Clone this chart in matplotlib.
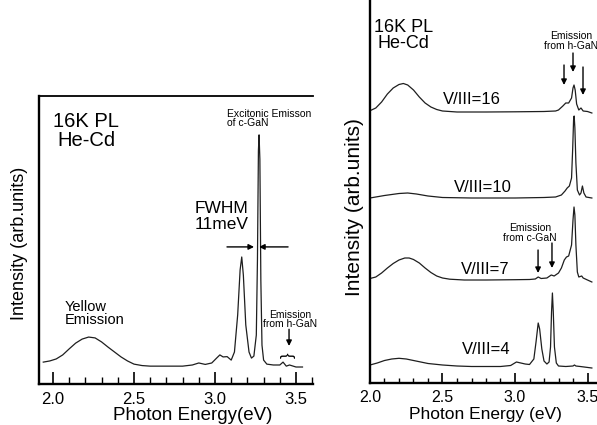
import matplotlib
matplotlib.use("Agg")
import matplotlib.pyplot as plt
from matplotlib.ticker import MultipleLocator

plt.rcParams['font.family'] = ['Liberation Sans', 'DejaVu Sans']

# ---------------- data ----------------
# Left panel: single spectrum (photon energy eV, intensity arb. units)
left_energy = [1.94, 1.98, 2.02, 2.06, 2.10, 2.14, 2.18, 2.22, 2.26, 2.30, 2.34, 2.38,
               2.42, 2.46, 2.50, 2.55, 2.60, 2.70, 2.80, 2.86, 2.90, 2.94, 2.98, 3.01,
               3.03, 3.05, 3.075, 3.10, 3.12, 3.14, 3.155, 3.165, 3.175, 3.19, 3.21,
               3.225, 3.24, 3.255, 3.262, 3.268, 3.272, 3.277, 3.283, 3.29, 3.30, 3.32,
               3.36, 3.40, 3.42, 3.44, 3.46, 3.50, 3.54]
left_intensity = [7.6, 8.0, 8.7, 10.1, 12.2, 14.2, 15.6, 16.3, 16.0, 14.6, 12.8, 11.1,
                  9.4, 8.0, 6.9, 6.4, 6.2, 6.2, 6.2, 6.6, 7.3, 6.8, 7.3, 9.0,
                  10.1, 9.4, 9.5, 8.3, 11.1, 24.0, 39.6, 44.1, 37.8, 20.5, 11.1,
                  9.0, 9.7, 17.0, 43.0, 81.0, 86.5, 78.0, 36.0, 13.5, 8.3, 6.9,
                  6.6, 6.6, 7.6, 6.2, 6.6, 5.9, 5.9]

# Right panel: spectra for several V/III ratios (intensity above own baseline)
ratio_labels = ['V/III=16', 'V/III=10', 'V/III=7', 'V/III=4']

energy_16 = [2.00, 2.04, 2.08, 2.12, 2.16, 2.20, 2.23, 2.26, 2.30, 2.34, 2.38, 2.42,
             2.46, 2.50, 2.60, 2.80, 3.00, 3.20, 3.28, 3.30, 3.33, 3.35, 3.37, 3.39,
             3.40, 3.407, 3.415, 3.425, 3.44, 3.455, 3.47, 3.50, 3.53]
intensity_16 = [1.3, 4, 10, 18, 24, 27.5, 28.5, 27, 22, 15, 9, 5,
                2.5, 1, 0, 0, 0.2, 0.5, 1, 2, 6, 9, 9, 14,
                24, 27, 22, 8, 2, 4, 1, 0.5, -1]

energy_10 = [2.00, 2.10, 2.20, 2.26, 2.32, 2.40, 2.50, 2.70, 3.00, 3.20, 3.28, 3.32,
             3.345, 3.36, 3.375, 3.39, 3.398, 3.404, 3.408, 3.413, 3.42, 3.43, 3.445,
             3.455, 3.465, 3.475, 3.49, 3.53]
intensity_10 = [0, 2.5, 4.5, 5, 4, 2, 0.5, 0, 0, 0.5, 1, 3,
                7, 10, 12, 20, 50, 78, 82, 70, 35, 8, 3,
                5, 12, 5, 1, 0]

energy_7 = [2.00, 2.04, 2.08, 2.12, 2.16, 2.20, 2.24, 2.27, 2.30, 2.34, 2.38, 2.42,
            2.46, 2.50, 2.55, 2.65, 2.80, 3.00, 3.10, 3.14, 3.16, 3.18, 3.22, 3.25,
            3.27, 3.30, 3.32, 3.34, 3.355, 3.37, 3.39, 3.40, 3.407, 3.413, 3.42,
            3.43, 3.44, 3.46, 3.47, 3.50, 3.53]
intensity_7 = [1.5, 3, 7, 12, 16.5, 20, 22, 22, 20.5, 17, 12, 7.5,
               4, 2, 0.8, 0, 0, 0.3, 0.5, 1, 3, 1.5, 2, 5,
               4, 7, 12, 20, 23, 24, 35, 60, 73, 65, 35,
               8, 3, 4, 2, 0, -2]

energy_4 = [2.00, 2.05, 2.10, 2.15, 2.20, 2.25, 2.30, 2.35, 2.40, 2.50, 2.60, 2.70,
            2.80, 2.90, 2.97, 3.01, 3.04, 3.07, 3.10, 3.13, 3.145, 3.16, 3.17, 3.185,
            3.20, 3.22, 3.235, 3.245, 3.252, 3.258, 3.264, 3.272, 3.285, 3.30, 3.35,
            3.40, 3.41, 3.42, 3.45, 3.53]
intensity_4 = [2, 4, 6.5, 8, 8.7, 8, 6.5, 5, 3.5, 2, 1, 0.5,
               0.5, 0.5, 1.5, 5, 4, 3, 2.5, 8, 25, 44, 38, 18,
               6, 3, 5, 20, 55, 74, 55, 20, 4, 1, 0.5,
               1, 2, 1, 0.5, -1]

right_energies = [energy_16, energy_10, energy_7, energy_4]
right_intensities = [intensity_16, intensity_10, intensity_7, intensity_4]
offsets = [271, 185, 103, 16]

tick_values = [2.0, 2.5, 3.0, 3.5]
tick_labels = ['2.0', '2.5', '3.0', '3.5']

# ---------------- figure ----------------
W, H = 597, 425
fig = plt.figure(figsize=(W / 100, H / 100), dpi=100)


def rect(x0, y0, x1, y1):
    return [x0 / W, 1 - y1 / H, (x1 - x0) / W, (y1 - y0) / H]


line_color = '#1e1e1e'

# ---- left panel ----
axL = fig.add_axes(rect(39, 96, 313.5, 384))
axL.plot(left_energy, left_intensity, color=line_color, lw=0.9)
axL.set_xlim(1.9136, 3.608)
axL.set_ylim(0, 100)
axL.spines['right'].set_visible(False)
axL.spines['top'].set_linewidth(1.3)
axL.spines['left'].set_linewidth(1.7)
axL.spines['bottom'].set_linewidth(1.7)
axL.set_xticks(tick_values)
axL.set_xticklabels(tick_labels)
axL.xaxis.set_minor_locator(MultipleLocator(0.1))
axL.tick_params(axis='x', which='major', direction='in', length=8.6, width=1.2,
                labelsize=12, pad=5.5)
axL.tick_params(axis='x', which='minor', direction='in', length=5, width=1.0)
axL.tick_params(axis='y', left=False, labelleft=False)

axL.text(2.204, 94.3, '16K PL\nHe-Cd', ha='center', va='top', fontsize=14.5,
         linespacing=1.0)
axL.text(3.074, 95.6, 'Excitonic Emisson\nof c-GaN', ha='left', va='top',
         fontsize=7.5, linespacing=0.95)
axL.text(3.043, 63.4, 'FWHM\n11meV', ha='center', va='top', fontsize=12.5,
         linespacing=1.05)
axL.text(2.074, 29.0, 'Yellow\nEmission', ha='left', va='top', fontsize=10.5,
         linespacing=0.9)
axL.text(3.463, 25.8, 'Emission\nfrom h-GaN', ha='center', va='top', fontsize=7.5,
         linespacing=0.95)

arrow_kw = dict(arrowstyle='-|>', color='k', lw=1.0, mutation_scale=8,
                shrinkA=0, shrinkB=0)
axL.annotate('', xy=(3.241, 47.6), xytext=(3.074, 47.6), arrowprops=arrow_kw)
axL.annotate('', xy=(3.272, 47.6), xytext=(3.451, 47.6), arrowprops=arrow_kw)
axL.annotate('', xy=(3.457, 13.2), xytext=(3.457, 19.0), arrowprops=arrow_kw)
axL.text(3.454, 10.0, '}', rotation=90, ha='center', va='center', fontsize=12)

fig.text(20 / W, 1 - 243 / H, 'Intensity (arb.units)', rotation=90,
         ha='center', va='center', fontsize=13)
fig.text(193 / W, 1 - 415 / H, 'Photon Energy(eV)', ha='center', va='center',
         fontsize=13.5)

# ---- right panel ----
axR = fig.add_axes(rect(370, 0, 602, 383))
for e, inten, off in zip(right_energies, right_intensities, offsets):
    axR.plot(e, [v + off for v in inten], color=line_color, lw=0.9)
axR.set_xlim(2.0, 3.6)
axR.set_ylim(0, 383)
axR.spines['right'].set_visible(False)
axR.spines['top'].set_visible(False)
axR.spines['left'].set_linewidth(1.7)
axR.spines['bottom'].set_linewidth(1.7)
axR.set_xticks(tick_values)
axR.set_xticklabels(tick_labels)
axR.xaxis.set_minor_locator(MultipleLocator(0.1))
axR.tick_params(axis='x', which='major', direction='in', length=7.2, width=1.2,
                labelsize=11.5, pad=5)
axR.tick_params(axis='x', which='minor', direction='in', length=3.6, width=1.0)
axR.tick_params(axis='y', left=False, labelleft=False)

axR.text(2.234, 364.5, '16K PL\nHe-Cd', ha='center', va='top', fontsize=13,
         linespacing=1.0)
label_pos = [(2.703, 283), (2.779, 195), (2.793, 113), (2.80, 33)]
for lab, (lx, ly) in zip(ratio_labels, label_pos):
    axR.text(lx, ly, lab, ha='center', va='center', fontsize=12)

axR.text(3.386, 352, 'Emission\nfrom h-GaN', ha='center', va='top', fontsize=7.5,
         linespacing=0.95)
axR.annotate('', xy=(3.40, 311), xytext=(3.40, 330), arrowprops=arrow_kw)
axR.annotate('', xy=(3.338, 298), xytext=(3.338, 318), arrowprops=arrow_kw)
axR.annotate('', xy=(3.469, 288), xytext=(3.469, 316), arrowprops=arrow_kw)

axR.text(3.103, 160, 'Emission\nfrom c-GaN', ha='center', va='top', fontsize=7.5,
         linespacing=0.95)
axR.annotate('', xy=(3.159, 110), xytext=(3.159, 133), arrowprops=arrow_kw)
axR.annotate('', xy=(3.255, 115), xytext=(3.255, 140), arrowprops=arrow_kw)

fig.text(355 / W, 1 - 207 / H, 'Intensity (arb.units)', rotation=90,
         ha='center', va='center', fontsize=15)
fig.text(485 / W, 1 - 415 / H, 'Photon Energy (eV)', ha='center', va='center',
         fontsize=12.5)

fig.savefig('out.png', dpi=100)
